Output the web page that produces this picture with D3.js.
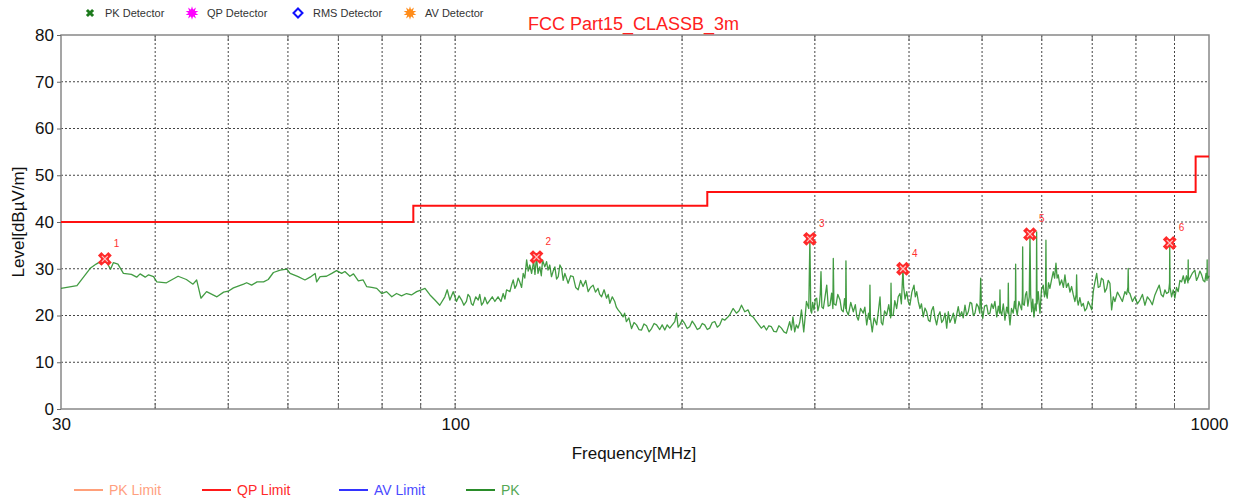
<!DOCTYPE html>
<html><head><meta charset="utf-8">
<script src="https://cdn.jsdelivr.net/npm/d3@7"></script>
<style>body{margin:0;background:#fff}svg{display:block;font-family:"Liberation Sans",Arial,sans-serif}</style>
</head><body>
<svg id="c" width="1240" height="501"></svg>
<script>
// ---------- data ----------
const title = "FCC Part15_CLASSB_3m";
const yTicks = [0,10,20,30,40,50,60,70,80];
const xTickLabels = [30,100,1000];
const xGrid = [40,50,60,70,80,90,100,200,300,400,500,600,700,800,900];
const yGrid = [10,20,30,40,50,60,70];

const limitFreq  = [30, 88, 216, 960, 1000];
const limitLevel = [40, 43.5, 46.4, 54, 54];

const markerFreq  = [34.3, 128.2, 295.5, 392.7, 578.8, 887];
const markerLevel = [32.1, 32.5, 36.4, 30.0, 37.4, 35.5];
const markerLabel = ["1","2","3","4","5","6"];

const pkTrace = [
[30.0,25.8],[31.5,26.4],[32.8,30.1],[33.4,31.0],[34.3,32.1],[34.9,29.9],[35.2,31.3],[35.7,31.0],[36.3,29.0],[37.2,28.8],
[37.8,28.2],[38.2,28.9],[38.8,28.2],[39.2,28.7],[39.8,28.3],[40.2,27.2],[41.4,27.0],[42.9,28.4],[44.0,27.7],[44.9,26.7],
[45.4,27.6],[46.0,23.7],[46.8,25.1],[48.3,24.0],[49.3,25.0],[50.0,25.2],[50.8,25.9],[52.4,26.7],[52.9,27.0],[53.7,26.5],
[54.6,27.2],[55.7,27.2],[56.5,27.7],[57.4,29.2],[58.6,29.7],[59.8,29.9],[60.4,29.0],[61.9,28.3],[63.2,27.6],[64.2,28.2],
[65.2,29.0],[65.5,27.2],[66.2,28.3],[67.5,28.4],[68.6,29.0],[69.6,29.6],[70.7,29.0],[71.4,29.4],[72.5,28.4],[73.3,28.9],
[74.4,27.4],[75.5,27.6],[76.3,26.2],[77.5,26.0],[78.7,25.8],[79.9,24.7],[81.1,25.1],[82.4,24.0],[83.6,24.7],[84.9,24.2],
[86.2,24.7],[87.5,24.4],[88.9,25.1],[90.2,25.5],[91.2,25.8],[92.6,24.4],[94.0,23.3],[95.4,22.2],[96.9,24.0],[97.6,25.5],
[98.4,23.3],[99.4,25.1],
[100.4,23.0],[101.2,24.2],[102.0,23.3],[102.7,22.2],[103.5,23.0],[104.0,24.5],[104.6,24.0],[105.1,22.5],[105.6,22.2],[106.5,24.0],
[107.3,23.3],[107.8,24.5],[108.4,22.2],[109.0,22.8],[109.5,23.9],[110.3,22.5],[111.2,23.3],[112.0,24.0],[112.9,23.0],[114.0,24.0],
[115.0,23.0],[115.8,24.7],[116.4,23.5],[117.0,25.5],[118.2,25.1],[118.8,26.5],[119.4,27.6],[120.0,25.8],[120.6,26.5],[121.2,28.0],
[121.8,27.2],[122.5,26.0],[123.1,29.0],[123.7,28.0],[124.4,31.9],[125.0,29.5],[125.6,30.8],[126.3,29.0],[127.1,31.7],[127.6,28.8],
[128.2,32.5],[128.8,29.0],[129.5,30.4],[130.1,28.5],[130.6,31.9],[131.5,30.4],[132.2,31.5],[132.8,29.7],[133.5,30.8],[134.2,28.3],
[134.9,29.5],[135.6,30.4],[136.3,27.8],[137.0,28.3],[137.7,30.8],[138.4,30.1],[139.1,27.5],[139.8,29.0],[140.5,28.0],[141.2,26.9],
[142.3,28.5],[143.4,28.3],[144.5,26.0],[145.6,25.5],[146.7,27.5],[147.8,26.2],[149.0,27.5],[150.1,25.1],[151.2,26.0],[152.4,26.5],
[153.5,25.0],[154.7,25.8],[155.5,24.5],[156.4,24.0],[157.6,25.5],[158.8,23.7],[159.6,24.5],[160.4,22.6],[161.6,24.0],[162.8,23.0],
[163.6,21.8],[164.5,21.2],[165.8,20.5],[167.0,19.7],[167.8,20.5],[168.7,18.7],[170.0,19.5],[171.4,17.2],[172.7,18.5],[174.0,18.0],
[175.3,17.0],[176.7,16.9],[178.0,18.2],[179.4,17.8],[180.8,16.5],[182.2,17.2],[183.6,18.3],[185.0,18.0],[186.8,17.0],[188.2,18.0],
[189.7,16.9],[191.1,18.0],[192.6,17.3],[194.1,18.0],[195.6,18.7],[196.6,20.5],[197.6,17.5],[198.6,18.0],[200.1,19.0],[201.6,18.3],
[203.1,17.2],[204.7,17.6],[206.3,18.8],[207.9,18.0],[209.5,17.0],[211.1,17.3],[212.7,18.3],[214.3,18.0],[216.0,17.0],[217.6,17.3],
[219.3,18.5],[221.0,18.7],[222.7,17.5],[224.4,18.0],[226.1,19.3],[227.8,19.0],[229.5,19.5],[231.3,20.1],[233.7,21.5],[236.1,20.5],
[238.0,21.0],[239.8,22.2],[242.2,20.8],[244.6,21.2],[246.5,20.0],[248.4,19.7],[251.0,18.7],[252.9,18.0],[254.8,17.3],[256.8,17.8],
[258.8,16.9],[260.7,17.8],[262.7,17.6],[264.7,16.6],[266.8,16.5],[268.8,17.8],[270.9,17.3],[273.0,16.5],[275.0,16.2],[276.5,17.5],
[277.8,18.7],[279.3,16.9],[280.6,19.7],[282.1,16.5],[283.5,18.0],[285.0,17.3],[286.5,18.5],[288.0,21.2],[290.0,16.5],[291.0,19.0],
[292.4,23.0],[294.5,21.5],[295.5,36.4],[296.3,21.0],
[297.1,20.5],[298.0,22.8],[299.2,21.2],[300.5,23.5],[301.7,23.7],[302.8,21.0],[304.1,22.2],[305.0,24.5],[305.7,29.4],[306.5,21.8],
[307.9,21.5],[309.5,24.0],[311.1,26.5],[312.5,22.0],[314.2,22.2],[315.8,24.8],[317.0,21.5],[317.4,32.2],[318.0,22.5],[320.0,22.2],
[321.8,24.5],[324.0,23.3],[325.5,21.2],[327.2,20.8],[328.5,23.6],[329.6,21.5],[329.9,31.7],[330.4,21.0],[332.3,20.1],[334.8,22.8],
[337.4,20.8],[339.5,22.3],[341.0,19.8],[342.6,19.0],[345.0,21.5],[347.8,20.5],[349.5,21.8],[351.5,18.0],[353.5,20.5],[354.6,19.2],
[355.0,26.5],[355.5,19.5],[357.5,16.5],[359.5,19.5],[362.4,18.0],[364.2,20.8],[366.1,24.0],[367.5,18.5],[369.1,18.0],[371.2,21.0],
[373.6,20.1],[376.0,22.3],[378.2,19.5],[378.6,26.9],[379.2,20.0],[381.2,20.1],[383.0,23.2],[385.2,21.5],[387.0,24.0],[389.1,24.7],
[390.8,22.5],[392.3,28.7],[392.7,30.0],[393.5,26.0],[395.2,23.5],[397.2,25.1],[399.0,23.0],[401.1,22.2],[403.5,25.0],[406.1,26.5],
[407.8,24.0],[409.5,25.1],[411.5,23.0],[413.6,21.5],[415.5,22.5],[417.8,19.7],[420.0,21.6],[422.2,20.8],[424.4,19.0],[426.5,18.7],
[428.5,21.0],[430.8,21.9],[433.0,19.5],[435.2,18.0],[437.5,20.0],[439.7,20.8],[442.0,18.5],[444.1,19.0],[446.5,20.5],[448.8,17.3],
[451.0,20.8],[453.2,18.5],[455.7,19.4],[458.0,20.5],[460.3,18.3],[462.5,20.0],[464.9,21.9],[467.2,19.8],[469.8,20.8],[472.0,19.5],
[474.6,22.2],[477.0,20.0],[479.4,20.8],[482.0,22.8],[484.4,22.6],[486.8,20.0],[489.3,20.5],[491.8,22.5],[494.3,21.9],[496.5,20.5],
[497.9,28.0],[499.0,21.5],[501.0,19.4],[503.8,22.0],[507.1,22.2],[509.5,20.3],[512.2,20.5],[514.8,22.5],[517.4,21.5],[520.0,23.0],
[522.9,19.7],[525.5,22.0],[527.5,20.5],[528.1,25.5],[528.8,21.0],[530.9,20.1],[533.5,22.5],[536.2,19.0],[539.0,21.8],[541.2,20.5],
[541.7,26.9],[542.3,21.0],[544.5,18.0],[547.0,21.5],[549.9,20.5],[552.0,23.0],[553.5,21.5],[554.0,31.0],[554.6,21.5],[556.7,20.1],
[559.5,23.0],[562.0,22.0],[564.2,21.2],[565.5,24.0],[566.0,34.7],[566.6,22.5],[568.8,22.2],[571.0,24.5],[572.9,25.1],[575.0,22.0],
[577.5,24.0],[578.8,37.4],[580.0,24.5],[581.8,20.8],[583.8,23.5],[585.8,19.7],[588.0,22.5],[590.0,21.0],[590.7,37.9],[591.4,22.5],
[593.6,25.1],[595.0,23.0],[596.7,20.5],[599.5,25.5],[602.7,26.5],[605.0,24.0],[607.0,25.5],[607.7,36.1],[608.4,24.5],[610.1,23.7],
[612.5,27.0],[615.1,25.8],[618.0,27.5],[621.4,29.4],[624.0,28.0],[626.6,31.2],[628.8,28.0],[631.0,28.7],[634.0,26.5],[637.5,27.6],
[641.0,26.0],[644.0,28.7],[647.0,26.0],[650.6,26.9],[654.0,25.0],[657.3,26.2],[660.5,24.5],[664.0,23.0],[666.5,24.5],[667.4,28.7],
[668.5,23.5],[670.7,22.2],[674.0,23.8],[677.5,22.0],[681.1,22.6],[684.5,21.0],[688.1,21.5],[691.5,23.0],[695.1,22.2],[698.8,21.2],
[702.2,25.1],[705.5,27.0],[709.6,29.0],[713.0,26.0],[716.6,26.2],[720.0,28.0],[723.9,27.6],[727.5,25.0],[731.6,25.8],[735.0,27.5],
[738.9,26.9],[740.8,24.0],[742.7,21.2],[746.5,24.0],[750.2,23.0],[756.0,25.0],[761.8,24.0],[767.5,23.0],[773.5,25.1],[777.5,24.5],
[780.5,26.0],[781.3,30.1],[782.2,25.0],[785.4,24.7],[791.5,23.0],[797.5,24.0],[803.5,22.5],[809.7,23.3],[816.0,24.5],[822.2,22.2],
[828.5,24.0],[834.8,23.3],[841.0,22.3],[847.7,24.4],[853.5,25.5],[859.0,26.5],[864.0,24.5],[869.4,24.0],[874.0,25.5],[878.5,24.7],
[884.0,25.0],[886.5,27.0],[887.0,35.5],[887.8,26.0],[892.0,24.0],[896.5,25.5],[901.0,23.7],[905.5,26.0],[910.2,25.1],[915.0,27.5],
[919.7,27.2],[924.5,28.5],[929.0,26.9],[933.5,28.5],[937.8,27.0],[938.4,31.9],[939.2,27.5],[943.3,28.0],[950.0,29.0],[957.7,29.7],
[962.5,27.5],[967.5,28.3],[972.5,29.5],[977.7,28.7],[982.5,27.5],[987.4,27.2],[991.0,29.0],[994.0,27.5],[994.4,31.9],[995.0,28.0],
[997.5,28.0],[1000,28.5]
];

const topLegend = ["PK Detector","QP Detector","RMS Detector","AV Detector"];
const bottomLegend = ["PK Limit","QP Limit","AV Limit","PK"];

// ---------- drawing ----------
const svg = d3.select("#c");
const x = d3.scaleLog().domain([30,1000]).range([61,1209]);
const y = d3.scaleLinear().domain([0,80]).range([409,35]);

// grid
svg.append("g").selectAll("line").data(xGrid).join("line")
  .attr("x1",d=>x(d)).attr("x2",d=>x(d)).attr("y1",y(0)).attr("y2",y(80))
  .attr("stroke","#444").attr("stroke-width",1).attr("stroke-dasharray","2,2");
svg.append("g").selectAll("line").data(yGrid).join("line")
  .attr("x1",x(30)).attr("x2",x(1000)).attr("y1",d=>y(d)).attr("y2",d=>y(d))
  .attr("stroke","#444").attr("stroke-width",1).attr("stroke-dasharray","2,2");

// ticks at top and bottom
svg.append("g").selectAll("line").data(xGrid).join("line")
  .attr("x1",d=>x(d)).attr("x2",d=>x(d)).attr("y1",y(0)).attr("y2",y(0)-6)
  .attr("stroke","#666");
svg.append("g").selectAll("line").data(xGrid).join("line")
  .attr("x1",d=>x(d)).attr("x2",d=>x(d)).attr("y1",y(80)).attr("y2",y(80)+6)
  .attr("stroke","#666");

// frame
svg.append("rect").attr("x",x(30)).attr("y",y(80)).attr("width",x(1000)-x(30)).attr("height",y(0)-y(80))
  .attr("fill","none").attr("stroke","#888").attr("stroke-width",1.5);

// y axis
const yAxis = d3.axisLeft(y).tickValues(yTicks).tickSize(4).tickPadding(3);
const ya = svg.append("g").attr("transform",`translate(${x(30)},0)`).call(yAxis);
ya.select(".domain").remove();
ya.selectAll("line").attr("stroke","#666");
ya.selectAll("text").attr("font-size",17).attr("fill","#111").attr("font-family","Liberation Sans, Arial, sans-serif");

// x axis labels
const xAxis = d3.axisBottom(x).tickValues(xTickLabels).tickFormat(d3.format("d")).tickSize(0).tickPadding(9);
const xa = svg.append("g").attr("transform",`translate(0,${y(0)})`).call(xAxis);
xa.select(".domain").remove();
xa.selectAll("text").attr("font-size",17).attr("fill","#111").attr("font-family","Liberation Sans, Arial, sans-serif");

// axis titles
svg.append("text").attr("x",634).attr("y",459).attr("text-anchor","middle")
  .attr("font-size",17).attr("fill","#111").text("Frequency[MHz]");
svg.append("text").attr("transform","translate(24,222) rotate(-90)").attr("text-anchor","middle")
  .attr("font-size",17).attr("fill","#111").text("Level[dBµV/m]");

// title
svg.append("text").attr("x",528).attr("y",30).attr("font-size",18).attr("fill","#ff2020").text(title);

// limit line
const limitData = limitFreq.map((f,i)=>[f,limitLevel[i]]);
svg.append("path").datum(limitData)
  .attr("d",d3.line().x(d=>x(d[0])).y(d=>y(d[1])).curve(d3.curveStepAfter))
  .attr("fill","none").attr("stroke","#ff1010").attr("stroke-width",2);

// PK trace
svg.append("path").datum(pkTrace)
  .attr("d",d3.line().x(d=>x(d[0])).y(d=>y(d[1])))
  .attr("fill","none").attr("stroke","#228b22").attr("stroke-width",1.3).attr("stroke-opacity",0.85)
  .attr("stroke-linejoin","round");

// markers
const mk = svg.append("g").selectAll("g").data(markerFreq).join("g")
  .attr("transform",(d,i)=>`translate(${x(d)},${y(markerLevel[i])})`);
mk.append("path").attr("d",d3.symbol(d3.symbolCross,120)()).attr("transform","rotate(45)").attr("fill","#ff2a2a");
mk.append("circle").attr("r",4).attr("fill","#ff2a2a");
mk.append("path").attr("d","M-3,-3L3,3M-3,3L3,-3").attr("stroke","#ffc0c0").attr("stroke-width",1.2);
mk.append("text").attr("x",9).attr("y",-12).attr("font-size",10).attr("fill","#ff3030")
  .text((d,i)=>markerLabel[i]);

// top legend
const tlX = [90,192,298,410];
const tl = svg.append("g").selectAll("g").data(topLegend).join("g")
  .attr("transform",(d,i)=>`translate(${tlX[i]},13)`);
tl.append("text").attr("x",15).attr("y",4).attr("font-size",11).attr("fill","#333").text(d=>d);
tl.each(function(d,i){
  const g = d3.select(this);
  if(i===0){
    g.append("path").attr("d",d3.symbol(d3.symbolCross,42)()).attr("transform","rotate(45)").attr("fill","#1c7a1c");
  } else if(i===1 || i===3){
    const c = i===1 ? "#ff00ff" : "#ff8c1a";
    g.append("path").attr("d",d3.symbol(d3.symbolStar,50)()).attr("fill",c);
    g.append("path").attr("d",d3.symbol(d3.symbolStar,50)()).attr("transform","rotate(36)").attr("fill",c);
  } else {
    g.append("path").attr("d","M0,-4.5L4.5,0L0,4.5L-4.5,0Z").attr("fill","none").attr("stroke","#1010ff").attr("stroke-width",2);
  }
});

// bottom legend
const blX = [74,202,339,466];
const blColor = ["#ffa07a","#ff1a1a","#3333ff","#2a8c2a"];
const blText = ["#ff9f7f","#ff2a2a","#4a4aff","#55a855"];
const bl = svg.append("g").selectAll("g").data(bottomLegend).join("g")
  .attr("transform",(d,i)=>`translate(${blX[i]},490)`);
bl.append("line").attr("x1",0).attr("x2",29).attr("y1",0).attr("y2",0)
  .attr("stroke",(d,i)=>blColor[i]).attr("stroke-width",2);
bl.append("text").attr("x",35).attr("y",5).attr("font-size",14).attr("fill",(d,i)=>blText[i]).text(d=>d);
</script>
</body></html>
